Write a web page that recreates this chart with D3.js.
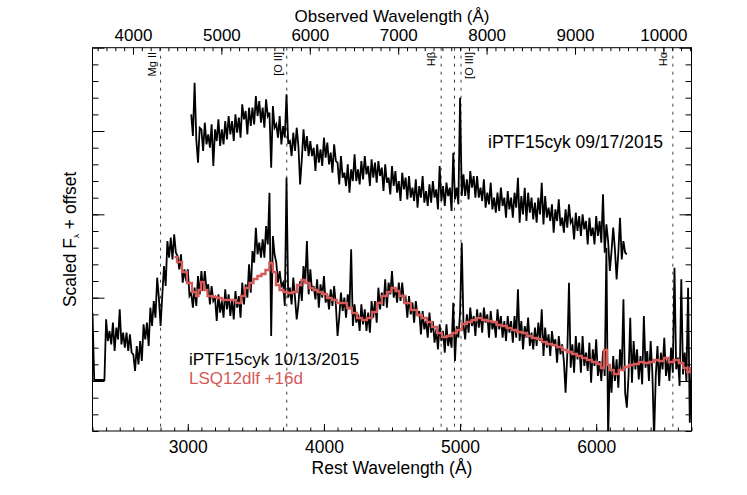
<!DOCTYPE html>
<html><head><meta charset="utf-8">
<script src="https://cdn.jsdelivr.net/npm/d3@7"></script>
<style>body{margin:0;background:#fff}text{font-family:"Liberation Sans",Arial,Helvetica,sans-serif}</style>
</head><body><svg id="c" width="747" height="495"></svg>
<script>
// ---------- data ----------
const restDomain = [2300, 6700];
const fluxDomain = [-3, 20];
const redshift = 0.54;
const bottomTicks = [3000, 4000, 5000, 6000];
const topTicks = [4000, 5000, 6000, 7000, 8000, 9000, 10000];
const yMajorTicks = [0, 5, 10, 15, 20];

const upperWave = [
3025,3037.5,3050,3062.5,3075,3087.5,3100,3112.5,
3125,3137.5,3150,3162.5,3175,3187.5,3200,3212.5,
3225,3237.5,3250,3262.5,3275,3287.5,3300,3312.5,
3325,3337.5,3350,3362.5,3375,3387.5,3400,3412.5,
3425,3437.5,3450,3462.5,3475,3487.5,3500,3512.5,
3525,3537.5,3550,3562.5,3575,3587.5,3600,3612.5,
3625,3637.5,3650,3662.5,3675,3687.5,3700,3712.5,
3725,3737.5,3750,3762.5,3775,3787.5,3800,3812.5,
3825,3837.5,3850,3862.5,3875,3887.5,3900,3912.5,
3925,3937.5,3950,3962.5,3975,3987.5,4000,4012.5,
4025,4037.5,4050,4062.5,4075,4087.5,4100,4112.5,
4125,4137.5,4150,4162.5,4175,4187.5,4200,4212.5,
4225,4237.5,4250,4262.5,4275,4287.5,4300,4312.5,
4325,4337.5,4350,4362.5,4375,4387.5,4400,4412.5,
4425,4437.5,4450,4462.5,4475,4487.5,4500,4512.5,
4525,4537.5,4550,4562.5,4575,4587.5,4600,4612.5,
4625,4637.5,4650,4662.5,4675,4687.5,4700,4712.5,
4725,4737.5,4750,4762.5,4775,4787.5,4800,4812.5,
4825,4837.5,4850,4862.5,4875,4887.5,4900,4912.5,
4925,4937.5,4950,4962.5,4975,4987.5,5000,5012.5,
5025,5037.5,5050,5062.5,5075,5087.5,5100,5112.5,
5125,5137.5,5150,5162.5,5175,5187.5,5200,5212.5,
5225,5237.5,5250,5262.5,5275,5287.5,5300,5312.5,
5325,5337.5,5350,5362.5,5375,5387.5,5400,5412.5,
5425,5437.5,5450,5462.5,5475,5487.5,5500,5512.5,
5525,5537.5,5550,5562.5,5575,5587.5,5600,5612.5,
5625,5637.5,5650,5662.5,5675,5687.5,5700,5712.5,
5725,5737.5,5750,5762.5,5775,5787.5,5800,5812.5,
5825,5837.5,5850,5862.5,5875,5887.5,5900,5912.5,
5925,5937.5,5950,5962.5,5975,5987.5,6000,6012.5,
6025,6037.5,6050,6062.5,6075,6087.5,6100,6112.5,
6125,6137.5,6150,6162.5,6175,6187.5,6200,6212.5,
6225];
const upperFlux = [
16.0,14.7,17.9,14.5,13.1,15.2,15.1,13.8,15.5,14.2,
14.8,14.0,15.4,12.9,15.1,14.4,15.7,14.1,15.1,14.2,
15.6,14.5,15.9,14.8,15.6,14.4,16.0,14.9,15.8,14.6,
16.6,15.7,16.2,14.8,16.4,15.3,16.4,15.4,17.1,15.9,
16.8,15.5,16.4,15.2,16.9,15.9,16.1,12.8,16.5,15.2,
15.4,14.6,15.9,14.2,15.3,14.6,17.2,14.3,14.4,13.5,
14.9,13.8,15.2,14.1,11.8,13.3,15.1,13.8,14.7,13.5,
14.4,13.5,14.0,12.6,14.2,13.1,13.9,12.9,14.6,13.4,
14.3,13.0,13.7,12.5,14.2,13.2,13.1,11.8,13.5,12.2,
12.5,11.7,13.0,11.3,12.7,12.0,13.6,12.0,12.7,11.8,
13.2,12.1,13.5,12.4,12.9,11.7,13.3,12.2,13.1,11.9,
13.2,12.3,12.8,11.4,13.0,11.9,12.2,11.2,12.9,11.7,
12.6,11.3,12.0,10.8,12.5,11.5,12.2,10.9,12.3,11.0,
11.6,10.8,12.1,10.4,11.7,11.0,12.3,10.7,11.4,10.5,
11.8,10.7,12.0,11.0,11.5,10.3,12.9,10.8,11.7,10.5,
11.9,11.1,11.6,10.2,13.7,10.9,11.6,10.6,17.0,11.1,
12.4,11.1,12.1,10.9,12.6,11.6,12.3,11.0,12.3,11.0,
11.6,10.8,12.1,10.4,11.3,10.6,11.9,10.3,11.0,10.1,
11.3,10.2,11.6,10.5,11.0,9.8,11.4,10.3,11.0,9.8,
11.3,10.4,12.2,9.5,11.1,10.0,11.6,9.6,11.3,10.1,
11.0,9.7,10.7,9.5,11.0,10.0,11.9,9.4,11.1,9.8,
10.4,9.6,10.6,8.9,10.3,9.6,10.9,9.3,9.8,8.9,
10.3,9.2,10.6,9.5,9.7,8.5,10.1,9.0,9.9,8.7,
10.0,9.1,9.6,8.2,9.8,8.7,9.2,8.2,9.9,8.7,
9.6,8.3,11.2,7.7,9.4,8.4,6.6,7.8,9.2,7.9,
6.1,7.7,9.8,7.3,8.4,7.7,7.6];

const lowerWave = [
2300,2312.5,2325,2337.5,2350,2362.5,2375,2387.5,
2400,2412.5,2425,2437.5,2450,2462.5,2475,2487.5,
2500,2512.5,2525,2537.5,2550,2562.5,2575,2587.5,
2600,2612.5,2625,2637.5,2650,2662.5,2675,2687.5,
2700,2712.5,2725,2737.5,2750,2762.5,2775,2787.5,
2800,2812.5,2825,2837.5,2850,2862.5,2875,2887.5,
2900,2912.5,2925,2937.5,2950,2962.5,2975,2987.5,
3000,3012.5,3025,3037.5,3050,3062.5,3075,3087.5,
3100,3112.5,3125,3137.5,3150,3162.5,3175,3187.5,
3200,3212.5,3225,3237.5,3250,3262.5,3275,3287.5,
3300,3312.5,3325,3337.5,3350,3362.5,3375,3387.5,
3400,3412.5,3425,3437.5,3450,3462.5,3475,3487.5,
3500,3512.5,3525,3537.5,3550,3562.5,3575,3587.5,
3600,3612.5,3625,3637.5,3650,3662.5,3675,3687.5,
3700,3712.5,3725,3737.5,3750,3762.5,3775,3787.5,
3800,3812.5,3825,3837.5,3850,3862.5,3875,3887.5,
3900,3912.5,3925,3937.5,3950,3962.5,3975,3987.5,
4000,4012.5,4025,4037.5,4050,4062.5,4075,4087.5,
4100,4112.5,4125,4137.5,4150,4162.5,4175,4187.5,
4200,4212.5,4225,4237.5,4250,4262.5,4275,4287.5,
4300,4312.5,4325,4337.5,4350,4362.5,4375,4387.5,
4400,4412.5,4425,4437.5,4450,4462.5,4475,4487.5,
4500,4512.5,4525,4537.5,4550,4562.5,4575,4587.5,
4600,4612.5,4625,4637.5,4650,4662.5,4675,4687.5,
4700,4712.5,4725,4737.5,4750,4762.5,4775,4787.5,
4800,4812.5,4825,4837.5,4850,4862.5,4875,4887.5,
4900,4912.5,4925,4937.5,4950,4962.5,4975,4987.5,
5000,5012.5,5025,5037.5,5050,5062.5,5075,5087.5,
5100,5112.5,5125,5137.5,5150,5162.5,5175,5187.5,
5200,5212.5,5225,5237.5,5250,5262.5,5275,5287.5,
5300,5312.5,5325,5337.5,5350,5362.5,5375,5387.5,
5400,5412.5,5425,5437.5,5450,5462.5,5475,5487.5,
5500,5512.5,5525,5537.5,5550,5562.5,5575,5587.5,
5600,5612.5,5625,5637.5,5650,5662.5,5675,5687.5,
5700,5712.5,5725,5737.5,5750,5762.5,5775,5787.5,
5800,5812.5,5825,5837.5,5850,5862.5,5875,5887.5,
5900,5912.5,5925,5937.5,5950,5962.5,5975,5987.5,
6000,6012.5,6025,6037.5,6050,6062.5,6075,6087.5,
6100,6112.5,6125,6137.5,6150,6162.5,6175,6187.5,
6200,6212.5,6225,6237.5,6250,6262.5,6275,6287.5,
6300,6312.5,6325,6337.5,6350,6362.5,6375,6387.5,
6400,6412.5,6425,6437.5,6450,6462.5,6475,6487.5,
6500,6512.5,6525,6537.5,6550,6562.5,6575,6587.5,
6600,6612.5,6625,6637.5,6650,6662.5,6675,6687.5,
6700];
const lowerFlux = [
4.1,0.06,0.06,0.06,0.06,0.06,0.06,0.06,3.7,2.4,
3.0,2.2,3.5,1.8,3.2,2.5,4.3,2.2,2.9,2.0,
2.9,1.8,2.8,1.7,1.6,0.6,2.1,1.0,2.4,1.2,
3.4,2.5,3.5,2.1,4.4,3.3,4.8,3.8,6.2,5.0,
3.3,5.1,6.9,5.7,8.4,7.4,8.6,7.3,8.8,7.7,
7.5,6.7,7.6,5.9,6.7,6.0,6.7,5.1,5.3,4.4,
5.6,4.5,6.3,5.2,6.6,5.4,6.6,5.5,5.8,4.6,
5.7,4.8,5.0,3.6,5.2,4.1,4.8,3.8,5.5,4.3,
5.2,3.9,4.9,3.7,5.4,4.4,5.1,3.8,5.9,4.6,
5.8,5.0,7.0,5.3,7.8,7.1,9.2,7.6,8.3,7.4,
8.5,7.4,9.3,8.2,11.3,2.7,8.7,7.6,7.1,5.9,
6.6,5.7,5.9,4.5,12.2,5.0,5.6,4.6,6.2,5.0,
3.7,4.6,6.0,4.8,6.9,5.9,8.4,5.2,6.7,5.4,
5.7,4.9,6.1,4.4,5.8,5.0,6.3,4.7,5.2,4.3,
5.5,4.5,5.7,4.6,2.7,3.8,5.3,4.2,5.0,3.8,
5.2,4.3,7.9,3.3,4.6,3.5,4.0,3.0,4.6,3.4,
4.3,3.0,4.1,2.9,4.8,3.8,4.8,3.5,5.6,4.3,
5.3,4.5,6.1,4.4,5.9,5.2,6.6,5.0,5.6,4.7,
5.9,4.8,5.9,4.8,5.0,3.8,5.1,4.0,4.7,3.5,
4.8,3.9,4.2,2.8,4.2,3.1,3.6,2.6,4.1,2.9,
3.6,2.3,3.1,1.9,3.4,2.4,3.0,1.7,3.4,2.1,
2.8,2.0,4.7,1.2,3.3,2.6,4.1,8.3,3.4,2.5,
4.0,2.9,4.4,3.3,3.9,2.7,4.3,3.2,4.1,2.9,
4.4,3.5,4.0,2.6,4.2,3.1,3.6,2.6,4.3,3.1,
3.9,2.6,3.6,2.4,3.9,2.9,3.6,2.3,3.9,2.6,
5.5,2.4,3.6,1.9,3.3,2.6,3.8,2.1,2.9,1.9,
3.2,2.1,3.5,2.4,4.3,1.5,3.2,2.0,2.8,1.5,
3.0,2.1,2.5,1.1,2.7,1.6,2.2,1.2,-0.7,1.6,
5.9,0.8,2.2,0.5,2.7,1.3,2.3,0.5,2.7,0.9,
1.7,0.6,2.3,-0.1,1.9,0.9,2.5,0.3,1.2,0.0,
1.8,0.3,8.0,-3.5,1.0,-0.7,1.5,0.0,1.3,-0.4,
1.9,0.6,4.9,-0.7,-1.6,0.3,3.8,-0.1,2.4,0.7,
1.9,0.1,1.5,-0.2,3.9,0.8,1.8,0.0,2.4,0.5,
-3.5,0.3,2.1,-0.3,1.7,0.7,2.6,0.3,1.3,0.0,
2.0,0.5,6.8,0.7,1.4,-0.3,6.1,0.4,1.7,0.0,
5.6,-2.5,0.8];

const templateWave = [2902,2939,2976,3012,3049,3071,3086,3108,3130,3159,3196,3233,3269,3306,3343,3365,3380,3402,3438,3468,3497,3526,3556,3585,3614,3636,3659,3688,3717,3747,3783,3820,3849,3879,3908,3938,3967,4004,4040,4077,4114,4151,4187,4224,4261,4298,4334,4371,4407,4444,4481,4510,4540,4569,4613,4665,4701,4738,4775,4811,4848,4885,4921,4958,4995,5032,5068,5105,5142,5179,5215,5252,5289,5325,5362,5399,5436,5473,5509,5546,5583,5619,5656,5693,5730,5766,5803,5840,5877,5913,5950,5987,6023,6045,6067,6089,6111,6148,6184,6221,6258,6295,6331,6368,6405,6441,6478,6515,6551,6588,6625,6654,6683,6698];
const templateFlux = [7.44,7.14,6.54,5.88,5.34,5.10,5.46,5.94,5.46,5.10,5.04,4.98,4.86,4.86,4.86,4.68,4.68,5.10,5.58,5.88,6.12,6.30,6.42,6.66,7.08,6.54,5.76,5.46,5.34,5.28,5.34,5.76,6.06,5.88,5.58,5.46,5.34,5.22,4.98,4.86,4.68,4.68,4.38,4.08,3.78,3.66,3.78,4.14,4.68,5.10,5.34,5.58,5.40,5.10,4.68,4.26,3.96,3.78,3.54,3.24,2.88,2.64,2.70,2.88,3.06,3.42,3.54,3.66,3.78,3.66,3.60,3.54,3.36,3.30,3.18,3.06,2.94,2.88,2.70,2.58,2.52,2.34,2.22,2.16,2.04,1.86,1.74,1.62,1.50,1.38,1.26,1.14,1.02,0.78,1.86,0.96,0.66,0.42,0.66,0.84,0.96,1.02,1.14,1.08,1.14,1.26,1.20,1.38,1.14,1.26,1.08,0.78,0.54,0.78];

const lineWave = [2800, 3727, 4861, 4959, 5007, 6563];
const lineNames = ["Mg II", "[O II]", "Hβ", "", "[O III]", "Hα"];

const upperLabel = "iPTF15cyk 09/17/2015";
const lowerLabel = "iPTF15cyk 10/13/2015";
const templateLabel = "LSQ12dlf +16d";

// ---------- layout ----------
const L = 92.5, R = 691.5, T = 47.7, B = 431;
const FS = 17.5;
const RED = "#d65a58";
const svg = d3.select("#c");
const x = d3.scaleLinear().domain(restDomain).range([L, R]);
const xObs = d3.scaleLinear().domain(restDomain.map(d => d * (1 + redshift))).range([L, R]);
const y = d3.scaleLinear().domain(fluxDomain).range([B, T]);

svg.append("defs").append("clipPath").attr("id", "clip")
  .append("rect").attr("x", L).attr("y", T).attr("width", R - L).attr("height", B - T);

const plot = svg.append("g").attr("clip-path", "url(#clip)");

plot.selectAll("line.em").data(lineWave).enter().append("line")
  .attr("x1", d => x(d)).attr("x2", d => x(d)).attr("y1", T).attr("y2", B)
  .attr("stroke", "#444").attr("stroke-width", 1).attr("stroke-dasharray", "3,5");

const zip = (a, b) => a.map((d, i) => [d, b[i]]).filter(p => p[1] !== undefined);
const lineGen = d3.line().x(d => x(d[0])).y(d => y(d[1]));
const stepGen = d3.line().x(d => x(d[0])).y(d => y(d[1])).curve(d3.curveStep);

plot.append("path").datum(zip(upperWave, upperFlux)).attr("d", lineGen)
  .attr("fill", "none").attr("stroke", "#000").attr("stroke-width", 1.8);
plot.append("path").datum(zip(lowerWave, lowerFlux)).attr("d", lineGen)
  .attr("fill", "none").attr("stroke", "#000").attr("stroke-width", 1.8);
plot.append("path").datum(zip(templateWave, templateFlux)).attr("d", stepGen)
  .attr("fill", "none").attr("stroke", RED).attr("stroke-width", 2.3);

const labelDx = [-5, -5, -6, 0, 12, -6];
svg.selectAll("text.em").data(lineWave.map((w, i) => ({ w, n: lineNames[i], dx: labelDx[i] })).filter(d => d.n))
  .enter().append("text")
  .attr("transform", d => `translate(${x(d.w) + d.dx},52) rotate(-90)`)
  .attr("text-anchor", "end").attr("font-size", 11).attr("fill", "#000").text(d => d.n);

function styleAxis(g, fs) {
  g.select(".domain").remove();
  g.selectAll("line").attr("stroke", "#000").attr("stroke-width", 1);
  g.selectAll("text").attr("font-size", fs || FS).attr("fill", "#000")
    .attr("font-family", '"Liberation Sans",Arial,sans-serif');
}
svg.append("g").attr("transform", `translate(0,${B})`)
  .call(d3.axisBottom(x).tickValues(d3.range(2300, 6701, 100)).tickSize(-3.5).tickFormat("")).call(styleAxis);
svg.append("g").attr("transform", `translate(0,${B})`)
  .call(d3.axisBottom(x).tickValues(bottomTicks).tickSize(-7).tickPadding(9.5).tickFormat(d3.format("d"))).call(styleAxis);
svg.append("g").attr("transform", `translate(0,${T})`)
  .call(d3.axisTop(xObs).tickValues(d3.range(3600, 10301, 100)).tickSize(-3.5).tickFormat("")).call(styleAxis);
svg.append("g").attr("transform", `translate(0,${T})`)
  .call(d3.axisTop(xObs).tickValues(topTicks).tickSize(-7).tickPadding(7.2).tickFormat(d3.format("d"))).call(g => styleAxis(g, 17));
svg.append("g").attr("transform", `translate(${L},0)`)
  .call(d3.axisLeft(y).tickValues(d3.range(-3, 20, 1)).tickSize(-6).tickFormat("")).call(styleAxis);
svg.append("g").attr("transform", `translate(${L},0)`)
  .call(d3.axisLeft(y).tickValues(yMajorTicks).tickSize(-12).tickFormat("")).call(styleAxis);
svg.append("g").attr("transform", `translate(${R},0)`)
  .call(d3.axisRight(y).tickValues(d3.range(-3, 20, 1)).tickSize(-6).tickFormat("")).call(styleAxis);
svg.append("g").attr("transform", `translate(${R},0)`)
  .call(d3.axisRight(y).tickValues(yMajorTicks).tickSize(-12).tickFormat("")).call(styleAxis);

svg.append("rect").attr("x", L).attr("y", T).attr("width", R - L).attr("height", B - T)
  .attr("fill", "none").attr("stroke", "#000").attr("stroke-width", 1);

svg.append("text").attr("x", (L + R) / 2).attr("y", 21.5).attr("text-anchor", "middle")
  .attr("font-size", 17).text("Observed Wavelength (Å)");
svg.append("text").attr("x", (L + R) / 2).attr("y", 473.5).attr("text-anchor", "middle")
  .attr("font-size", FS).text("Rest Wavelength (Å)");
const yt = svg.append("text").attr("transform", `translate(76,${(T + B) / 2}) rotate(-90)`)
  .attr("text-anchor", "middle").attr("font-size", FS);
yt.append("tspan").text("Scaled F");
yt.append("tspan").attr("font-size", 8).attr("dy", 3).text("λ");
yt.append("tspan").attr("dy", -3).text(" + offset");

svg.append("text").attr("x", 488).attr("y", 147.5).attr("font-size", FS).text(upperLabel);
svg.append("text").attr("x", 189).attr("y", 364.5).attr("font-size", 17).text(lowerLabel);
svg.append("text").attr("x", 189).attr("y", 384).attr("font-size", 17).attr("fill", RED).text(templateLabel);
</script></body></html>
